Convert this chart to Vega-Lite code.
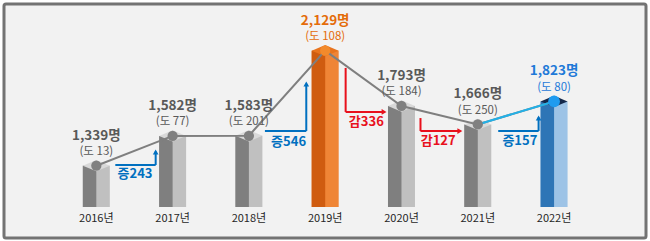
{
  "$schema": "https://vega.github.io/schema/vega-lite/v6.json",
  "width": 642,
  "height": 234,
  "autosize": "none",
  "padding": {"left": 4, "top": 4, "right": 4, "bottom": 3},
  "background": "#ffffff",
  "config": {
    "view": {"fill": "#f2f2f2", "stroke": "#737373", "strokeWidth": 3, "cornerRadius": 2},
    "font": "Noto Sans CJK KR",
    "text": {"font": "Noto Sans CJK KR"}
  },
  "datasets": {
    "bars": [
      {"year": 2016, "value": 1339, "label": "1,339명", "sub": "(도 13)", "yearLabel": "2016년", "kind": "normal"},
      {"year": 2017, "value": 1582, "label": "1,582명", "sub": "(도 77)", "yearLabel": "2017년", "kind": "normal"},
      {"year": 2018, "value": 1583, "label": "1,583명", "sub": "(도 201)", "yearLabel": "2018년", "kind": "normal"},
      {"year": 2019, "value": 2129, "label": "2,129명", "sub": "(도 108)", "yearLabel": "2019년", "kind": "peak"},
      {"year": 2020, "value": 1793, "label": "1,793명", "sub": "(도 184)", "yearLabel": "2020년", "kind": "normal"},
      {"year": 2021, "value": 1666, "label": "1,666명", "sub": "(도 250)", "yearLabel": "2021년", "kind": "normal"},
      {"year": 2022, "value": 1823, "label": "1,823명", "sub": "(도 80)", "yearLabel": "2022년", "kind": "latest"}
    ],
    "segments": [
      {"x": 2016.249, "x2": 2016.778, "y": 1345, "y2": 1345, "sign": "up"},
      {"x": 2016.778, "x2": 2016.778, "y": 1345, "y2": 1460, "sign": "up"},
      {"x": 2018.21, "x2": 2018.752, "y": 1618, "y2": 1618, "sign": "up"},
      {"x": 2018.752, "x2": 2018.752, "y": 1618, "y2": 1935, "sign": "up"},
      {"x": 2019.268, "x2": 2019.268, "y": 2030, "y2": 1753, "sign": "down"},
      {"x": 2019.268, "x2": 2019.775, "y": 1753, "y2": 1753, "sign": "down"},
      {"x": 2020.249, "x2": 2020.249, "y": 1711, "y2": 1618, "sign": "down"},
      {"x": 2020.249, "x2": 2020.77, "y": 1618, "y2": 1618, "sign": "down"},
      {"x": 2021.268, "x2": 2021.797, "y": 1618, "y2": 1618, "sign": "up"},
      {"x": 2021.797, "x2": 2021.797, "y": 1618, "y2": 1715, "sign": "up"}
    ],
    "heads": [
      {"x": 2016.778, "y": 1456, "sign": "up", "dir": "up"},
      {"x": 2018.752, "y": 1933, "sign": "up", "dir": "up"},
      {"x": 2019.772, "y": 1753, "sign": "down", "dir": "right"},
      {"x": 2020.765, "y": 1618, "sign": "down", "dir": "right"},
      {"x": 2021.797, "y": 1711, "sign": "up", "dir": "up"}
    ],
    "changes": [
      {"x": 2016.507, "y": 1263, "text": "증243", "sign": "up"},
      {"x": 2018.52, "y": 1535, "text": "증546", "sign": "up"},
      {"x": 2019.539, "y": 1683, "text": "감336", "sign": "down"},
      {"x": 2020.481, "y": 1543, "text": "감127", "sign": "down"},
      {"x": 2021.552, "y": 1543, "text": "증157", "sign": "up"}
    ]
  },
  "layer": [
    {
      "mark": {"type": "rule", "color": "#d6d6d6", "strokeWidth": 4, "opacity": 0.8},
      "encoding": {
        "x": {"datum": 2015.126, "type": "quantitative", "scale": {"domain": [2014.8555, 2023.1394], "nice": false, "zero": false}, "axis": null},
        "x2": {"datum": 2022.804},
        "y": {"datum": 878, "type": "quantitative", "scale": {"type": "pow", "exponent": 2, "domain": [267.3, 2375.5], "nice": false, "zero": false}, "axis": null}
      }
    },
    {
      "mark": {"type": "rule", "color": "#a6a6a6", "strokeWidth": 1, "strokeDash": [4, 3]},
      "encoding": {
        "x": {"datum": 2015.643, "type": "quantitative", "axis": null},
        "x2": {"datum": 2022.636},
        "y": {"datum": 1823, "type": "quantitative", "axis": null}
      }
    },
    {
      "data": {"name": "bars"},
      "layer": [
        {
          "mark": {"type": "bar", "orient": "vertical", "size": 27},
          "encoding": {
            "x": {"field": "year", "type": "quantitative", "axis": null},
            "y": {"field": "value", "type": "quantitative", "axis": null},
            "y2": {"datum": 900},
            "color": {"condition": [{"test": "datum.kind == 'peak'", "value": "#ef8536"}, {"test": "datum.kind == 'latest'", "value": "#9dc3e6"}], "value": "#c0c0c0"}
          }
        },
        {
          "mark": {"type": "bar", "orient": "vertical", "size": 13.5, "xOffset": -6.75},
          "encoding": {
            "x": {"field": "year", "type": "quantitative", "axis": null},
            "y": {"field": "value", "type": "quantitative", "axis": null},
            "y2": {"datum": 900},
            "color": {"condition": [{"test": "datum.kind == 'peak'", "value": "#cf5c10"}, {"test": "datum.kind == 'latest'", "value": "#2e75b6"}], "value": "#7f7f7f"}
          }
        },
        {
          "mark": {"type": "point", "filled": true, "opacity": 1, "size": 729, "shape": "M-1,0L0,-0.42L1,0L0,0.42Z"},
          "encoding": {
            "x": {"field": "year", "type": "quantitative", "axis": null},
            "y": {"field": "value", "type": "quantitative", "axis": null},
            "color": {"condition": [{"test": "datum.kind == 'peak'", "value": "#e8741e"}, {"test": "datum.kind == 'latest'", "value": "#14284a"}], "value": "#d9d9d9"}
          }
        },
        {
          "mark": {"type": "line", "color": "#7f7f7f", "strokeWidth": 2},
          "encoding": {
            "x": {"field": "year", "type": "quantitative", "axis": null},
            "y": {"field": "value", "type": "quantitative", "axis": null}
          }
        },
        {
          "transform": [{"filter": "datum.year >= 2021"}],
          "mark": {"type": "line", "color": "#22b1e8", "strokeWidth": 2},
          "encoding": {
            "x": {"field": "year", "type": "quantitative", "axis": null},
            "y": {"field": "value", "type": "quantitative", "axis": null}
          }
        },
        {
          "mark": {"type": "point", "filled": true, "opacity": 1, "shape": "circle"},
          "encoding": {
            "x": {"field": "year", "type": "quantitative", "axis": null},
            "y": {"field": "value", "type": "quantitative", "axis": null},
            "size": {"condition": {"test": "datum.kind == 'latest'", "value": 140}, "value": 105},
            "color": {"condition": [{"test": "datum.kind == 'peak'", "value": "#f28a2c"}, {"test": "datum.kind == 'latest'", "value": "#1e9bf0"}], "value": "#808080"}
          }
        },
        {
          "mark": {"type": "text", "dy": -30, "fontSize": 13.5, "fontWeight": "bold", "baseline": "middle", "letterSpacing": -0.3},
          "encoding": {
            "x": {"field": "year", "type": "quantitative", "axis": null},
            "y": {"field": "value", "type": "quantitative", "axis": null},
            "text": {"field": "label"},
            "color": {"condition": [{"test": "datum.kind == 'peak'", "value": "#e46c0a"}, {"test": "datum.kind == 'latest'", "value": "#1f7ad8"}], "value": "#595959"}
          }
        },
        {
          "mark": {"type": "text", "dy": -13.5, "fontSize": 11.5, "baseline": "middle"},
          "encoding": {
            "x": {"field": "year", "type": "quantitative", "axis": null},
            "y": {"field": "value", "type": "quantitative", "axis": null},
            "text": {"field": "sub"},
            "fontWeight": {"condition": {"test": "datum.kind != 'normal'", "value": "bold"}, "value": "normal"},
            "color": {"condition": [{"test": "datum.kind == 'peak'", "value": "#e46c0a"}, {"test": "datum.kind == 'latest'", "value": "#1f7ad8"}], "value": "#595959"}
          }
        },
        {
          "mark": {"type": "text", "fontSize": 11, "baseline": "middle", "color": "#262626", "letterSpacing": -0.4},
          "encoding": {
            "x": {"field": "year", "type": "quantitative", "axis": null},
            "y": {"datum": 720, "type": "quantitative", "axis": null},
            "text": {"field": "yearLabel"}
          }
        }
      ]
    },
    {
      "data": {"name": "segments"},
      "mark": {"type": "rule", "strokeWidth": 2},
      "encoding": {
        "x": {"field": "x", "type": "quantitative", "axis": null},
        "x2": {"field": "x2"},
        "y": {"field": "y", "type": "quantitative", "axis": null},
        "y2": {"field": "y2"},
        "color": {"condition": {"test": "datum.sign == 'up'", "value": "#0070c0"}, "value": "#e8101c"}
      }
    },
    {
      "data": {"name": "heads"},
      "mark": {"type": "point", "filled": true, "opacity": 1, "size": 32},
      "encoding": {
        "x": {"field": "x", "type": "quantitative", "axis": null},
        "y": {"field": "y", "type": "quantitative", "axis": null},
        "shape": {"condition": {"test": "datum.dir == 'up'", "value": "triangle-up"}, "value": "triangle-right"},
        "color": {"condition": {"test": "datum.sign == 'up'", "value": "#0070c0"}, "value": "#e8101c"}
      }
    },
    {
      "data": {"name": "changes"},
      "mark": {"type": "text", "fontSize": 13, "fontWeight": "bold", "baseline": "middle"},
      "encoding": {
        "x": {"field": "x", "type": "quantitative", "axis": null},
        "y": {"field": "y", "type": "quantitative", "axis": null},
        "text": {"field": "text"},
        "color": {"condition": {"test": "datum.sign == 'up'", "value": "#0070c0"}, "value": "#e8101c"}
      }
    }
  ]
}
